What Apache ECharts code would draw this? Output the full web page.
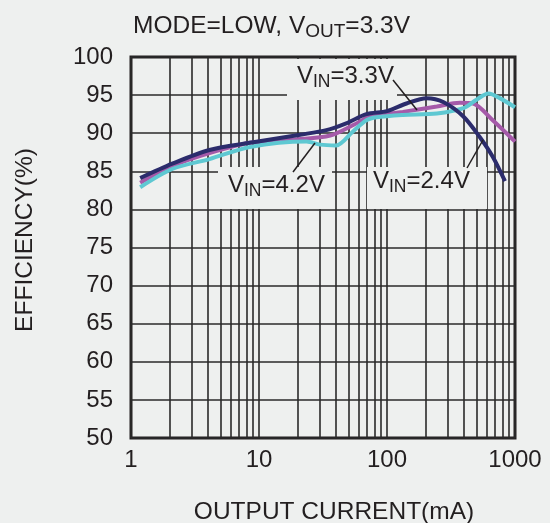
<!DOCTYPE html>
<html>
<head>
<meta charset="utf-8">
<script src="https://cdn.jsdelivr.net/npm/echarts@6/dist/echarts.min.js"></script>
<style>
html, body { margin: 0; padding: 0; background: #eef0ef; }
#chart { width: 550px; height: 523px; }
</style>
</head>
<body>
<div id="chart"></div>
<script>
// Efficiency vs output current, MODE=LOW, VOUT=3.3V
const vin24 = [[1.18, 84.1], [2.1, 86.0], [4.1, 87.8], [9, 88.8], [21, 89.8], [33.6, 90.4], [48, 91.3],
    [69, 92.5], [100, 92.9], [142, 93.9], [204, 94.6], [275, 94.1], [395, 92.2], [530, 89.5], [670, 86.9], [835, 83.7]];
const vin33 = [[1.18, 83.5], [2.1, 85.7], [4.1, 87.4], [8.5, 88.75], [20, 89.2], [36, 89.7], [55, 91.1],
    [74, 92.2], [133, 92.8], [245, 93.5], [370, 94.0], [470, 93.9], [670, 91.7], [1000, 88.9]];
const vin42 = [[1.18, 82.9], [2.1, 85.3], [4.1, 86.6], [8.5, 88.2], [23.5, 88.9], [30, 88.5], [40, 88.4],
    [54, 90.2], [69, 91.7], [83, 92.1], [133, 92.4], [245, 92.6], [395, 93.3], [500, 94.4], [620, 95.2],
    [760, 94.6], [1000, 93.4]];
const minorGrid = [2, 3, 4, 5, 6, 7, 8, 9, 20, 30, 40, 50, 60, 70, 80, 90, 200, 300, 400, 500, 600, 700, 800, 900];

const BG = '#eef0ef';
const INK = '#231f20';
const GRID = '#2a2a2a';
const FONT = '"Liberation Sans", Arial, sans-serif';

function rich(main, sub) {
    return {
        m: { fontSize: main, fontFamily: FONT, fill: INK, lineHeight: 30 },
        s: { fontSize: sub, fontFamily: FONT, fill: INK, lineHeight: 16, verticalAlign: 'bottom' }
    };
}

function label(x, y, text) {
    return {
        type: 'text', x: x, y: y, z: 60,
        style: { text: text, rich: rich(24, 17.5), align: 'left', verticalAlign: 'middle' }
    };
}
function box(x, y, w, h) {
    return { type: 'rect', z: 50, shape: { x: x, y: y, width: w, height: h }, style: { fill: BG } };
}
function leader(x1, y1, x2, y2) {
    return { type: 'line', z: 60, shape: { x1: x1, y1: y1, x2: x2, y2: y2 }, style: { stroke: INK, lineWidth: 1.5 } };
}

function curve(name, data, color) {
    return {
        name: name, type: 'line', data: data, smooth: 0.3, symbol: 'none', z: 3,
        lineStyle: { color: color, width: 4 }
    };
}

const chart = echarts.init(document.getElementById('chart'));
chart.setOption({
    backgroundColor: BG,
    animation: false,
    grid: { left: 131, right: 35, top: 57, bottom: 85, show: true, borderColor: INK, borderWidth: 3, backgroundColor: 'transparent' },
    xAxis: {
        type: 'log', logBase: 10, min: 1, max: 1000,
        axisLine: { show: false }, axisTick: { show: false },
        axisLabel: { fontSize: 24, fontFamily: FONT, color: INK, margin: 10, formatter: function (v) { return String(v); } },
        splitLine: { show: true, lineStyle: { color: GRID, width: 1.6 } }
    },
    yAxis: {
        type: 'value', min: 50, max: 100, interval: 5,
        axisLine: { show: false }, axisTick: { show: false },
        axisLabel: { fontSize: 24, fontFamily: FONT, color: INK, margin: 18 },
        splitLine: { show: true, lineStyle: { color: GRID, width: 1.6 } }
    },
    series: [
        {
            type: 'line', data: [], symbol: 'none', z: 1, silent: true,
            markLine: {
                z: 1, silent: true, symbol: 'none', animation: false,
                label: { show: false },
                lineStyle: { color: GRID, width: 1.6, type: 'solid' },
                data: minorGrid.map(function (v) { return { xAxis: v }; })
            }
        },
        curve('VIN=3.3V', vin33, '#a55aa9'),
        curve('VIN=4.2V', vin42, '#5ec8d2'),
        curve('VIN=2.4V', vin24, '#2b2c6c')
    ],
    graphic: [
        {
            type: 'text', x: 133, y: 26, z: 60,
            style: { text: '{m|MODE=LOW, V}{s|OUT}{m|=3.3V}', rich: rich(24.5, 19), align: 'left', verticalAlign: 'middle' }
        },
        {
            type: 'text', x: 25, y: 240, rotation: Math.PI / 2, z: 60,
            style: { text: 'EFFICIENCY(%)', fontSize: 24.5, fontFamily: FONT, fill: INK, align: 'center', verticalAlign: 'middle' }
        },
        {
            type: 'text', x: 334, y: 512, z: 60,
            style: { text: 'OUTPUT CURRENT(mA)', fontSize: 24.5, fontFamily: FONT, fill: INK, align: 'center', verticalAlign: 'middle' }
        },
        box(287, 59, 110, 41),
        box(218, 167, 114, 42),
        box(367, 167, 120, 42),
        label(297, 76, '{m|V}{s|IN}{m|=3.3V}'),
        label(228, 185, '{m|V}{s|IN}{m|=4.2V}'),
        label(373, 181, '{m|V}{s|IN}{m|=2.4V}'),
        leader(393, 80, 417, 110),
        leader(293, 172, 315, 143),
        leader(467, 168, 483, 140)
    ]
});
</script>
</body>
</html>
